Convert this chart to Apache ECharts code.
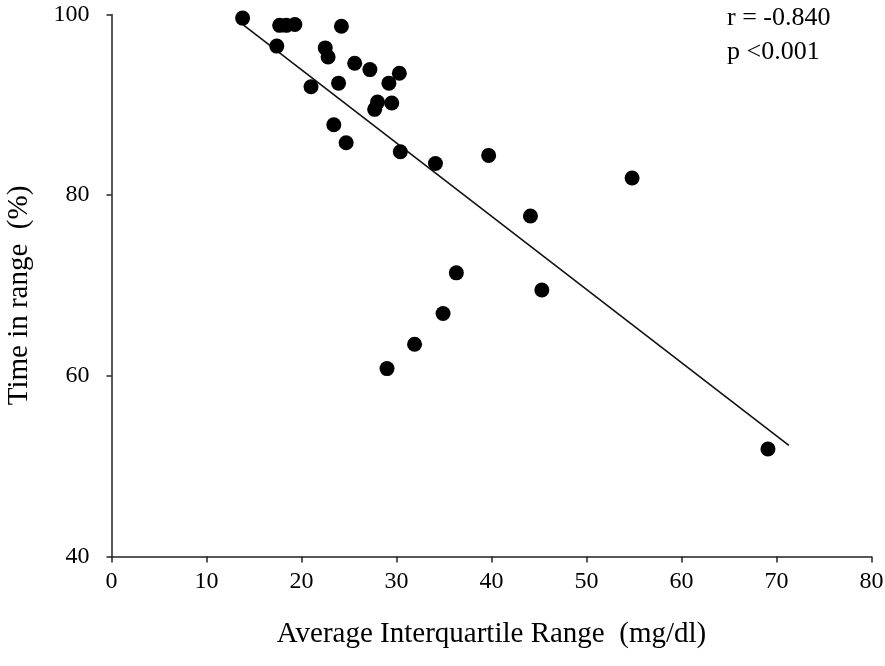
<!DOCTYPE html>
<html>
<head>
<meta charset="utf-8">
<script src="https://cdn.jsdelivr.net/npm/echarts@6/dist/echarts.min.js"></script>
<style>
html,body{margin:0;padding:0;background:#fff;}
#chart{width:885px;height:666px;}
</style>
</head>
<body>
<div id="chart"></div>
<script>
// Average interquartile range (mg/dl)
const iqr = [13.8, 17.7, 18.4, 19.3, 24.2, 17.4, 22.5, 22.8, 25.6, 27.2, 30.3, 29.2, 21.0, 23.9, 28.0, 27.7, 29.5, 23.4, 24.7, 30.4, 34.1, 39.7, 54.8, 44.1, 36.3, 45.3, 34.9, 31.9, 29.0, 69.1];
// Time in range (%)
const tir = [99.6, 98.8, 98.8, 98.9, 98.7, 96.5, 96.3, 95.3, 94.6, 93.9, 93.5, 92.4, 92.0, 92.4, 90.3, 89.5, 90.2, 87.8, 85.8, 84.8, 83.5, 84.4, 81.9, 77.7, 71.4, 69.5, 66.9, 63.5, 60.8, 51.9];
// Regression line end points
const fitX = [13.8, 71.3];
const fitY = [98.9, 52.3];
const xTicks = [0, 10, 20, 30, 40, 50, 60, 70, 80];
const yTicks = [40, 60, 80, 100];
const statLines = ['r = -0.840', 'p <0.001'];

const font = 'Liberation Serif';
const chart = echarts.init(document.getElementById('chart'), null, {renderer: 'canvas'});
chart.setOption({
  animation: false,
  backgroundColor: '#ffffff',
  grid: {left: 111.5, right: 13.5, top: 14.5, bottom: 109.5, containLabel: false, outerBoundsMode: 'none'},
  xAxis: {
    type: 'value', min: xTicks[0], max: xTicks[xTicks.length - 1], interval: 10,
    name: 'Average Interquartile Range  (mg/dl)', nameLocation: 'middle', nameGap: 63,
    nameTextStyle: {fontFamily: font, fontSize: 29, color: '#000'},
    axisLine: {show: true, lineStyle: {color: '#222', width: 1.5}},
    axisTick: {show: true, inside: false, length: 6, lineStyle: {color: '#222', width: 1.5}},
    axisLabel: {fontFamily: font, fontSize: 24, color: '#000', margin: 13},
    splitLine: {show: false}
  },
  yAxis: {
    type: 'value', min: yTicks[0], max: yTicks[yTicks.length - 1], interval: 20,
    name: 'Time in range  (%)', nameLocation: 'middle', nameGap: 78,
    nameTextStyle: {fontFamily: font, fontSize: 29, color: '#000', padding: [0, 20, 0, 0]},
    axisLine: {show: true, lineStyle: {color: '#222', width: 1.5}},
    axisTick: {show: true, inside: false, length: 5, lineStyle: {color: '#222', width: 1.5}},
    axisLabel: {fontFamily: font, fontSize: 24, color: '#000', margin: 22},
    splitLine: {show: false}
  },
  graphic: [{
    type: 'text', left: 727, top: 1,
    style: {text: statLines.join('\n'), font: '26px "Liberation Serif"', fill: '#000', lineHeight: 34}
  }],
  series: [{
    type: 'line',
    data: fitX.map((x, i) => [x, fitY[i]]),
    showSymbol: false, symbol: 'none',
    lineStyle: {color: '#111', width: 1.6},
    z: 2
  }, {
    type: 'scatter',
    data: iqr.map((x, i) => [x, tir[i]]),
    symbol: 'circle', symbolSize: 15,
    itemStyle: {color: '#000', opacity: 1},
    z: 3
  }]
});
</script>
</body>
</html>
